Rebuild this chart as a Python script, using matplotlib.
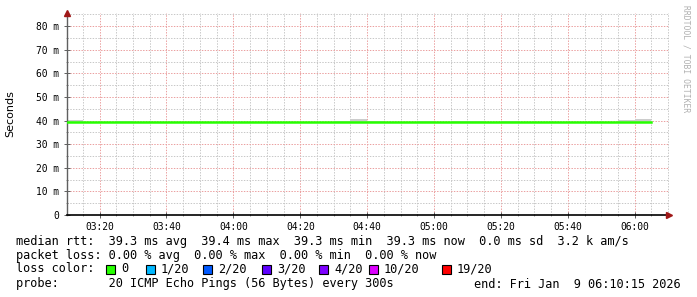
import datetime as dt

import matplotlib
matplotlib.use("Agg")
import matplotlib.pyplot as plt
import matplotlib.dates as mdates
from matplotlib.patches import Rectangle

# ---- data (5 minute steps, values in ms) ----
start = dt.datetime(2026, 1, 9, 3, 10, 0)
median_ms = [39.3, 39.3, 39.3, 39.3, 39.6, 39.6, 39.3, 39.3, 39.3, 39.3,
             39.3, 39.3, 39.3, 39.3, 39.3, 39.3, 39.3, 39.3, 39.3, 39.3,
             39.3, 39.3, 39.3, 39.3, 39.3, 39.3, 39.3, 39.3, 39.3, 39.3,
             39.3, 39.3, 39.3, 39.3, 39.3]
smoke_top = [40.3, 39.6, 39.6, 39.7, 39.6, 39.6, 39.6, 39.6, 39.6, 39.6,
             39.6, 39.6, 39.6, 39.6, 39.6, 39.6, 39.9, 40.5, 39.7, 39.6,
             39.6, 39.7, 39.6, 39.7, 39.7, 39.6, 39.7, 39.6, 39.6, 39.6,
             39.6, 39.6, 39.6, 40.2, 40.5]
smoke_bottom = [39.0] * len(median_ms)
times = [start + dt.timedelta(minutes=5 * i) for i in range(len(median_ms) + 1)]

loss_labels = ["0", "1/20", "2/20", "3/20", "4/20", "10/20", "19/20"]
loss_colors = ["#26ff00", "#00b8ff", "#0059ff", "#5e00ff", "#7e00ff", "#dd00ff", "#ff0000"]

t0 = dt.datetime(2026, 1, 9, 3, 10, 15)
t1 = dt.datetime(2026, 1, 9, 6, 10, 15)

W, H = 697, 297
fig = plt.figure(figsize=(W / 100, H / 100), dpi=100, facecolor="white")
ax = fig.add_axes([67 / W, (H - 215) / H, 602 / W, 202 / H])
ax.set_facecolor("white")

# smoke + median (drawn as steps)
ax.fill_between(times, smoke_bottom + [smoke_bottom[-1]], smoke_top + [smoke_top[-1]],
                step="post", color="#cccccc", linewidth=0, zorder=2)
ax.step(times, median_ms + [median_ms[-1]], where="post", color="#26ff00",
        linewidth=1.8, zorder=3)

ax.set_xlim(t0, t1)
ax.set_ylim(0, 85.6)

# =========================
# GRID
# =========================
ax.xaxis.set_major_locator(mdates.MinuteLocator(byminute=[0, 20, 40]))
ax.xaxis.set_minor_locator(mdates.MinuteLocator(byminute=list(range(0, 60, 5))))
ax.xaxis.set_major_formatter(mdates.DateFormatter("%H:%M"))
ax.set_yticks(range(0, 90, 10))
ax.set_yticks(range(0, 90, 5), minor=True)
ax.set_yticklabels(["0"] + ["%d m" % v for v in range(10, 90, 10)])

ax.grid(True, which="minor", color="#c8c8c8", linestyle=(0, (1.4, 1.4)), linewidth=0.72, zorder=1)
ax.grid(True, which="major", color="#eba0a0", linestyle=(0, (1.4, 1.4)), linewidth=0.72, zorder=1)
ax.set_axisbelow(True)

for s in ["top", "right"]:
    ax.spines[s].set_visible(False)
ax.spines["left"].set_color("#606060")
ax.spines["bottom"].set_color("black")
ax.spines["left"].set_linewidth(1)
ax.spines["bottom"].set_linewidth(1.2)

ax.tick_params(which="major", direction="inout", length=4, width=0.7, color="#606060",
               labelsize=6.9, labelfontfamily="DejaVu Sans Mono", pad=3)
ax.tick_params(which="minor", direction="inout", length=2, width=0.7, color="#909090")
ax.tick_params(axis="y", pad=4)

# arrows
ax.plot(1.0, 0, marker=">", color="#a01818", markersize=4, transform=ax.transAxes,
        clip_on=False, zorder=5)
ax.plot(0, 1.0, marker="^", color="#a01818", markersize=4, transform=ax.transAxes,
        clip_on=False, zorder=5)

fig.text(10 / W, 1 - 114 / H, "Seconds", rotation=90, ha="center", va="center",
         fontsize=8, family="DejaVu Sans")
fig.text(686 / W, 1 - 59 / H, "RRDTOOL / TOBI OETIKER", rotation=-90, ha="center",
         va="center", fontsize=5.8, family="DejaVu Sans Mono", color="#b0b0b0")

# =========================
# LEGEND / STATS
# =========================
mono = dict(fontsize=8.55, family="DejaVu Sans Mono", va="center")
fig.text(16 / W, 1 - 241 / H,
         "median rtt:  39.3 ms avg  39.4 ms max  39.3 ms min  39.3 ms now  0.0 ms sd  3.2 k am/s",
         **mono)
fig.text(16 / W, 1 - 255 / H,
         "packet loss: 0.00 % avg  0.00 % max  0.00 % min  0.00 % now", **mono)
fig.text(16 / W, 1 - 269 / H, "loss color:", **mono)
box_x = [106, 146, 203, 262, 319, 369, 442]
for bx, lab, col in zip(box_x, loss_labels, loss_colors):
    fig.patches.append(Rectangle((bx / W, 1 - 274 / H), 9 / W, 9 / H,
                                 transform=fig.transFigure, facecolor=col,
                                 edgecolor="black", linewidth=0.8))
    fig.text((bx + 15) / W, 1 - 269 / H, lab, **mono)
fig.text(16 / W, 1 - 284 / H,
         "probe:       20 ICMP Echo Pings (56 Bytes) every 300s", **mono)
fig.text(681 / W, 1 - 284 / H, "end: Fri Jan  9 06:10:15 2026", ha="right",
         fontsize=8.55, family="DejaVu Sans Mono", va="center")

fig.savefig("out.png", dpi=100, facecolor="white")
